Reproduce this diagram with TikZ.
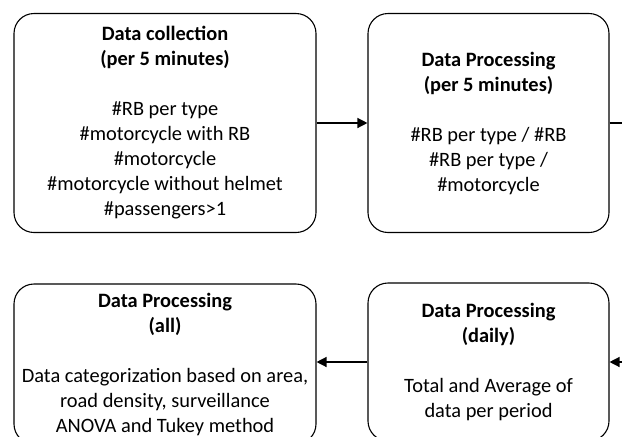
\documentclass[tikz,border=0pt]{standalone}
\usepackage{fontspec}
\setmainfont{Carlito}
\usetikzlibrary{arrows.meta}
\begin{document}
\begin{tikzpicture}[x=1pt,y=-1pt,
  box/.style={draw, line width=1.1pt, rounded corners=20pt, align=center, inner sep=0pt,
    font=\fontsize{20.4}{25}\selectfont},
  arr/.style={line width=1.3pt, -{Triangle[length=10pt,width=10pt]}},
  conn/.style={line width=1.3pt}]
\useasboundingbox (0,0) rectangle (622,437);
\clip (0,0) rectangle (622,437);
\node[box, minimum width=302pt, minimum height=219pt] (b1) at (165,123)
  {\textbf{Data collection}\\\textbf{(per 5 minutes)}\\[25pt]
   \#RB per type\\\#motorcycle with RB\\\#motorcycle\\\#motorcycle without helmet\\\#passengers>1};
\node[box, minimum width=241pt, minimum height=219pt] (b2) at (488.5,123)
  {\textbf{Data Processing}\\\textbf{(per 5 minutes)}\\[25pt]
   \#RB per type / \#RB\\\#RB per type /\\\#motorcycle};
\node[box, minimum width=241pt, minimum height=158pt] (b3) at (488.5,362)
  {\textbf{Data Processing}\\\textbf{(daily)}\\[25pt]
   Total and Average of\\data per period};
\node[box, minimum width=302pt, minimum height=160pt] (b4) at (165,364)
  {\textbf{Data Processing}\\\textbf{(all)}\\[25pt]
   Data categorization based on area,\\road density, surveillance\\ANOVA and Tukey method};
\coordinate (r1) at (622,123);
\coordinate (r2) at (622,362);
\draw[arr] (b1.east) -- (b2.west);
\draw[conn] (b2.east) -- (r1);
\draw[arr] (r2) -- (b3.east);
\draw[arr] (b3.west) -- (b3.west -| b4.east);
\end{tikzpicture}
\end{document}
